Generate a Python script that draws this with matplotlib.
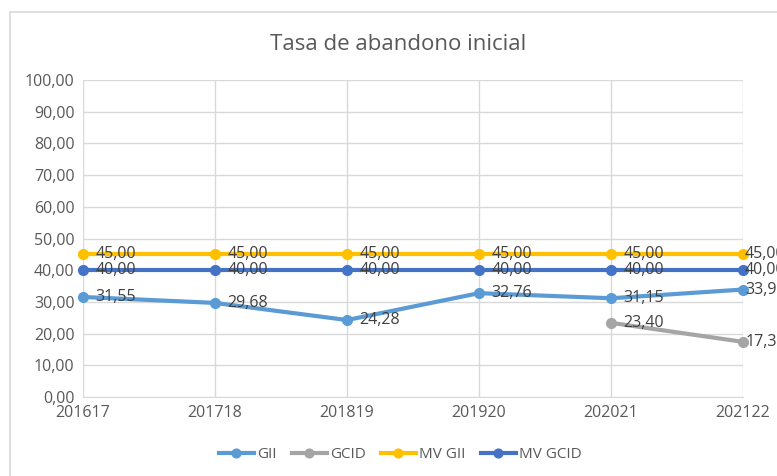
import numpy as np
import matplotlib
matplotlib.use("Agg")
import matplotlib.pyplot as plt
from matplotlib.patches import Rectangle

plt.rcParams['font.family'] = ['Open Sans', 'DejaVu Sans']

periods = ["201617", "201718", "201819", "201920", "202021", "202122"]
gii = [31.55, 29.68, 24.28, 32.76, 31.15, 33.90]
gcid = [np.nan, np.nan, np.nan, np.nan, 23.40, 17.39]
mv_gii = [45.00, 45.00, 45.00, 45.00, 45.00, 45.00]
mv_gcid = [40.00, 40.00, 40.00, 40.00, 40.00, 40.00]

series = [
    ("GII", gii, "#5B9BD5"),
    ("GCID", gcid, "#A5A5A5"),
    ("MV GII", mv_gii, "#FFC000"),
    ("MV GCID", mv_gcid, "#4472C4"),
]

fig = plt.figure(figsize=(7.77, 4.76), dpi=100)
ax = fig.add_axes([83 / 777, 1 - 397 / 476, 660 / 777, 317 / 476])

# chart frame (cropped at right and bottom)
fig.patches.append(Rectangle((10 / 777, -0.05), 1.1, 1 - 12 / 476 + 0.05,
                             transform=fig.transFigure, fill=False,
                             edgecolor="#d9d9d9", lw=1.2))

x = np.arange(len(periods))
for name, vals, col in series:
    ax.plot(x, vals, color=col, lw=3, marker="o", markersize=7,
            label=name, clip_on=False, zorder=3)
    for xi, v in zip(x, vals):
        if np.isnan(v):
            continue
        # Excel pushes the last labels back toward the chart area
        dx = 1.5 if xi == x[-1] else 9
        ax.annotate(f"{v:.2f}".replace(".", ","), (xi, v), xytext=(dx, 0),
                    textcoords="offset points", va="center", ha="left",
                    fontsize=11.5, color="#404040", zorder=4,
                    annotation_clip=False)

ax.set_xlim(0, 5)
ax.set_ylim(0, 100)
ax.set_yticks(np.arange(0, 101, 10))
ax.set_yticklabels([f"{t:.2f}".replace(".", ",") for t in np.arange(0, 101, 10)])
ax.set_xticks(x)
ax.set_xticklabels(periods)
ax.grid(True, color="#d9d9d9", lw=1)
ax.set_axisbelow(True)
for s in ax.spines.values():
    s.set_visible(False)
ax.spines["bottom"].set_visible(True)
ax.spines["bottom"].set_color("#d9d9d9")
ax.tick_params(length=0, labelsize=11.5, colors="#595959", pad=6)

fig.text(398 / 777, 1 - 44 / 476, "Tasa de abandono inicial", ha="center",
         va="center", fontsize=16, color="#595959")

fig.legend(loc="center", bbox_to_anchor=(400 / 777, 1 - 455 / 476), ncol=4,
           frameon=False, fontsize=11, labelcolor="#595959",
           handlelength=2.3, handletextpad=0.2, columnspacing=1.0,
           markerscale=0.9)

fig.savefig("out.png", dpi=100)
